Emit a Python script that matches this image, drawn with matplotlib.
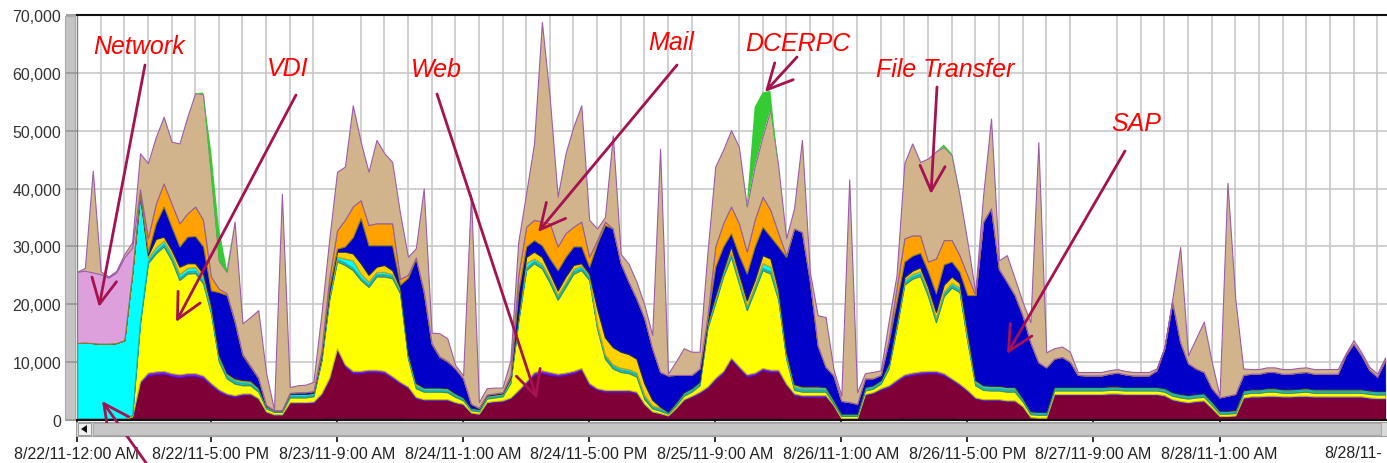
import matplotlib
matplotlib.use('Agg')
import matplotlib.pyplot as plt
from matplotlib.patches import Rectangle, Polygon
import matplotlib.dates as mdates
import pandas as pd

# hourly samples starting 8/22/11 00:00 (values in thousands)
times = pd.date_range('2011-08-22 00:00', periods=167, freq='h')

pink = [0, 0, 0, 0, 0, 0, 0, 0, .4, .4,
        .4, .4, .4, .4, .4, .4, .4, .4, .1, .1,
        .1, .1, .1, .1, .1, .1, .1, .1, .1, .1,
        .1, .1, .4, .4, .4, .4, .4, .4, .4, .4,
        .4, .4, .1, .1, .1, .1, .1, .1, .1, .1,
        0, 0, .1, .1, .1, .1, .1, .4, .4, .4,
        .4, .4, .4, .4, .4, .4, .1, .1, .1, .1,
        .1, .1, .1, .1, .1, 0, .1, .1, .1, .1,
        .1, .4, .4, .4, .4, .4, .4, .4, .4, .4,
        .1, .1, .1, .1, .1, .1, 0, 0, 0, 0,
        .1, .1, .1, .1, .1, .4, .4, .4, .4, .4,
        .4, .4, .1, .1, .1, .1, .1, .1, .1, .1,
        .1, 0, 0, 0, .1, .1, .1, .1, .1, .1,
        .1, .1, .1, .1, .1, .1, .1, .1, .1, .1,
        .1, .1, .1, .1, .1, 0, 0, 0, .1, .1,
        .1, .1, .1, .1, .1, .1, .1, .1, .1, .1,
        .1, .1, .1, .1, .1, .1, .1]

web = [.2, .2, .2, .2, .2, .2, .2, .6, 6.0, 7.3,
       7.5, 7.6, 7.2, 7.0, 7.2, 7.2, 6.8, 5.6, 4.8, 4.2,
       3.9, 4.2, 4.3, 3.5, 1.3, .8, .8, 2.8, 2.8, 2.8,
       2.9, 4.2, 6.5, 11.7, 8.8, 7.7, 7.7, 7.9, 7.9, 7.7,
       6.8, 5.9, 5.4, 3.6, 3.3, 3.3, 3.3, 3.3, 2.8, 2.5,
       1.2, 1.0, 2.8, 3.0, 3.1, 3.6, 4.8, 5.9, 7.4, 7.7,
       7.4, 7.2, 7.4, 7.7, 8.2, 5.6, 5.1, 4.8, 4.8, 4.8,
       4.8, 4.5, 2.5, 1.3, 1.0, .7, 1.9, 3.3, 3.9, 4.5,
       5.4, 6.5, 7.7, 10.0, 8.5, 7.1, 7.4, 8.2, 7.9, 7.9,
       5.9, 4.2, 3.9, 3.9, 3.9, 3.9, 2.5, .3, .3, .3,
       4.2, 4.5, 5.1, 5.6, 6.5, 7.1, 7.4, 7.6, 7.7, 7.7,
       7.3, 6.5, 5.9, 4.8, 3.6, 3.3, 3.3, 3.3, 3.1, 3.1,
       2.2, .5, .4, .4, 4.2, 4.2, 4.2, 4.2, 4.2, 4.2,
       4.2, 4.3, 4.3, 4.2, 4.2, 4.2, 4.2, 4.2, 4.0, 3.3,
       3.0, 2.8, 3.0, 3.1, 1.9, .7, .7, .8, 3.6, 3.8,
       3.8, 3.9, 3.9, 3.8, 3.8, 3.9, 3.9, 3.8, 3.8, 3.8,
       3.8, 3.8, 3.8, 3.8, 3.6, 3.5, 3.5]

purple = [0, 0, 0, 0, 0, 0, 0, 0, .3, .5,
          .5, .5, .5, .5, .5, .5, .5, .4, .4, .3,
          .3, .3, .2, .2, .1, .1, .1, .2, .2, .2,
          .2, .3, .4, .3, .4, .4, .4, .4, .4, .4,
          .4, .3, .3, .3, .2, .2, .2, .2, .2, .2,
          .1, .1, .2, .2, .2, .2, .3, .4, .5, .5,
          .5, .4, .4, .4, .4, .4, .3, .3, .3, .3,
          .3, .3, .2, .1, .1, .1, .1, .2, .2, .3,
          .3, .4, .4, .4, .4, .4, .4, .4, .4, .4,
          .3, .3, .3, .3, .3, .3, .1, 0, 0, 0,
          .2, .2, .3, .3, .4, .4, .4, .4, .4, .4,
          .4, .3, .3, .3, .2, .2, .2, .2, .2, .2,
          .1, 0, 0, 0, .2, .2, .2, .2, .2, .2,
          .2, .2, .2, .2, .2, .2, .2, .2, .2, .2,
          .2, .2, .2, .2, .1, 0, 0, 0, .2, .2,
          .2, .2, .2, .2, .2, .2, .2, .2, .2, .2,
          .2, .2, .2, .2, .2, .2, .2]

vdi = [.1, .1, .1, .1, .1, .1, .1, .3, 10.0, 18.9,
       20.4, 21.5, 19.5, 16.3, 17.2, 17.3, 15.9, 12.0, 4.8, 2.6,
       2.0, 1.4, 1.4, 1.1, .5, .4, .4, .8, .8, .8,
       .9, 5.5, 13.4, 15.0, 17.2, 17.4, 15.7, 14.3, 16.1, 16.3,
       16.9, 15.3, 4.8, 1.5, 1.3, 1.3, 1.3, 1.2, .9, .6,
       .4, .4, .6, .6, .7, 2.5, 11.8, 19.2, 18.8, 17.6,
       15.4, 12.8, 14.8, 16.8, 16.9, 17.8, 10.3, 5.4, 3.7, 3.1,
       2.9, 2.6, .8, .5, .4, .3, .4, .6, .7, 1.1,
       10.0, 12.9, 16.3, 17.4, 14.3, 11.1, 14.2, 16.9, 16.6, 12.0,
       4.3, .6, .6, .6, .6, .6, .3, .4, .4, .4,
       .6, .6, .8, 2.9, 8.8, 15.5, 16.2, 16.5, 12.9, 8.4,
       13.3, 15.7, 15.8, 8.3, 2.1, 1.6, 1.5, 1.5, 1.5, 1.5,
       .8, .5, .5, .5, .6, .6, .6, .6, .6, .6,
       .6, .6, .6, .6, .6, .6, .6, .6, .6, .6,
       .6, .6, .6, .6, .5, .4, .4, .4, .6, .6,
       .6, .7, .7, .6, .6, .6, .7, .6, .6, .6,
       .6, .6, .6, .6, .6, .6, .6]

teal = [0, 0, 0, 0, 0, 0, 0, 0, .4, .4,
        .4, .4, .4, .4, .4, .4, .4, .4, .4, .4,
        .4, .4, .3, .3, .2, .2, .2, .3, .3, .3,
        .3, .3, .4, .4, .4, .4, .4, .4, .4, .4,
        .4, .4, .4, .4, .3, .3, .3, .3, .3, .3,
        .2, .2, .2, .2, .2, .3, .4, .4, .4, .4,
        .4, .4, .4, .4, .4, .4, .4, .4, .4, .4,
        .4, .4, .4, .3, .3, .2, .3, .4, .4, .4,
        .4, .4, .4, .4, .4, .4, .4, .4, .4, .4,
        .4, .4, .4, .4, .4, .4, .4, .3, .3, .3,
        .4, .4, .4, .4, .4, .4, .4, .4, .4, .4,
        .4, .4, .4, .4, .4, .4, .4, .4, .4, .4,
        .4, .3, .3, .3, .4, .4, .4, .4, .4, .4,
        .4, .4, .4, .4, .4, .4, .4, .4, .4, .4,
        .4, .4, .4, .4, .4, .3, .3, .3, .4, .4,
        .4, .4, .4, .4, .4, .4, .4, .4, .4, .4,
        .4, .4, .4, .4, .4, .4, .4]

cyan = [13.0, 13.1, 13.0, 12.9, 12.9, 13.0, 13.5, 24.5, 21.8, .5,
        .6, .6, .6, .6, .6, .6, .6, .5, .4, .3,
        .3, .3, .3, .3, .2, .1, .1, .3, .3, .3,
        .3, .3, .4, .4, .7, 1.3, .7, .5, .4, .4,
        .3, .3, .3, .3, .3, .3, .3, .3, .2, .2,
        .2, .2, .2, .2, .2, .2, .4, .8, .4, .4,
        .4, .4, .4, .4, .4, .4, .3, .3, .3, .3,
        .3, .3, .3, .2, .2, .1, .2, .2, .2, .2,
        .3, .4, .4, .4, .4, .4, .4, .8, .8, .4,
        .3, .3, .3, .3, .3, .3, .2, .1, .1, .1,
        .2, .2, .2, .3, .4, .4, .4, .4, .4, .4,
        .4, .4, .4, .3, .3, .3, .3, .3, .3, .3,
        .2, .2, .2, .2, .2, .2, .2, .2, .2, .2,
        .2, .2, .2, .2, .2, .2, .2, .2, .2, .2,
        .2, .2, .2, .2, .2, .2, .2, .2, .2, .2,
        .2, .2, .2, .2, .2, .2, .2, .2, .2, .2,
        .2, .2, .2, .2, .2, .2, .2]

gold = [0, 0, 0, 0, 0, 0, 0, 0, 0, .5,
        1.5, .7, .8, 1.3, .8, .7, .7, .5, .3, .2,
        .2, .2, .2, .1, 0, 0, 0, 0, 0, 0,
        0, .2, .4, .9, 1.2, 1.2, 1.8, 1.2, .9, 1.2,
        .7, .3, .2, .2, .1, .1, .1, .1, .1, 0,
        0, 0, .1, .1, .1, .3, .4, 1.1, 1.2, 1.2,
        .9, .8, 1.0, .7, .4, .3, 2.8, 3.0, 3.0, 2.8,
        2.6, 2.4, 2.0, 1.0, .2, 0, 0, 0, 0, 0,
        .3, .5, .3, 1.0, .9, .9, 1.0, 1.4, 1.4, .9,
        .5, .3, .2, .2, .2, .1, 0, 0, 0, 0,
        0, 0, 0, .2, .4, .5, .6, .7, .8, 1.0,
        1.2, 1.1, .8, .9, .2, .1, .1, .1, .1, .1,
        0, 0, 0, 0, 0, 0, 0, 0, 0, 0,
        0, 0, 0, 0, 0, 0, 0, 0, 0, 0,
        0, 0, 0, 0, 0, 0, 0, 0, 0, 0,
        0, 0, 0, 0, 0, 0, 0, 0, 0, 0,
        0, 0, 0, 0, 0, 0, 0]

sap = [0, 0, 0, 0, 0, 0, 0, 0, 0, .5,
       2.7, 5.2, 4.0, 3.5, 4.6, 4.7, 4.7, 2.6, 10.9, 13.5,
       9.8, 4.3, 2.4, 1.6, .2, 0, 0, .2, .3, .3,
       .3, .5, 1.0, .5, .9, 2.8, 7.8, 5.1, 3.7, 3.4,
       4.3, .5, 13.1, 21.5, 16.5, 7.5, 5.3, 4.6, 4.3, 3.3,
       .7, .2, .2, .2, .2, .3, 3.9, 1.8, 2.0, 2.0,
       2.5, 3.5, 3.4, 3.2, 2.9, 1.2, 11.2, 19.4, 20.5, 15.3,
       12.5, 10.4, 11.3, 8.9, 6.0, 6.3, 4.8, 3.0, 2.3, 2.3,
       .8, 5.0, 4.1, 2.3, 3.2, 4.6, 5.8, 4.9, 3.8, 7.6,
       16.4, 26.9, 26.7, 18.3, 7.1, 3.5, 4.2, 2.2, 2.0, 1.7,
       1.5, 1.2, .9, 3.7, 3.4, 2.7, 2.6, 2.5, 2.7, 3.2,
       3.5, 2.6, 1.9, 6.5, 14.7, 28.3, 30.7, 20.2, 18.2, 15.9,
       14.3, 11.9, 8.6, 7.7, 4.9, 5.2, 4.4, 2.1, 2.0, 2.0,
       2.0, 2.2, 2.4, 2.2, 2.0, 2.0, 2.0, 2.9, 6.9, 15.6,
       9.0, 5.5, 4.4, 3.7, 2.3, 2.3, 2.6, 2.8, 2.7, 2.7,
       2.7, 2.8, 2.8, 2.7, 2.7, 2.8, 2.8, 2.7, 2.7, 2.7,
       2.7, 5.9, 7.9, 5.9, 3.6, 2.5, 5.3]

mail = [0, 0, 0, 0, 0, 0, 0, 0, 1.0, 2.4,
        3.4, 4.0, 4.0, 4.0, 4.0, 5.1, 4.6, 2.4, .6, .3,
        .2, .2, .2, .1, 0, 0, 0, 0, 0, 0,
        0, .5, 1.5, 3.2, 4.6, 5.3, 3.1, 3.5, 3.8, 3.8,
        3.8, 1.0, .5, .2, .2, .2, .1, .1, 0, 0,
        0, 0, 0, 0, 0, .3, 2.9, 3.4, 3.5, 4.1,
        6.1, 4.1, 4.1, 3.4, 4.3, 1.7, .6, .6, 0, 0,
        0, 0, 0, 0, 0, 0, 0, 0, 0, 0,
        .3, 3.5, 4.0, 4.6, 5.5, 3.8, 4.6, 5.2, 4.6, 2.3,
        .3, 0, 0, 0, 0, 0, 0, 0, 0, 0,
        0, 0, 0, .3, 2.3, 4.0, 3.5, 3.0, 1.7, 6.0,
        4.2, 3.7, 2.9, 3.4, 0, 0, 0, 0, 0, 0,
        0, 0, 0, 0, 0, 0, 0, 0, 0, 0,
        0, 0, 0, 0, 0, 0, 0, 0, 0, 0,
        0, 0, 0, 0, 0, 0, 0, 0, 0, 0,
        0, 0, 0, 0, 0, 0, 0, 0, 0, 0,
        0, 0, 0, 0, 0, 0, 0]

network = [12.3, 12.4, 12.2, 12.0, 11.4, 12.2, 14.3, 4.4] + [0] * 159

file_transfer = [0, .5, 17.6, .5, .2, .3, .6, .9, 6.2, 13.0,
                 11.5, 11.5, 10.7, 13.8, 16.7, 19.6, 21.7, 17.6, 4.8, 3.7,
                 17.1, 5.3, 8.4, 11.7, 5.5, .1, 37.4, 1.0, 1.2, 1.3,
                 1.6, 6.2, 6.7, 10.1, 9.2, 17.5, 10.1, 9.2, 14.4, 12.1,
                 10.6, 11.3, 3.1, 1.6, 17.7, 1.8, 4.0, 3.9, .6, .5,
                 36.2, 1.0, 1.1, 1.0, .8, 2.5, 5.8, 5.8, 13.2, 34.5,
                 21.6, 8.6, 13.8, 17.3, 20.1, 6.4, 2.0, .8, 16.1, 1.6,
                 3.1, 2.9, 2.3, 2.3, 38.6, .3, 2.3, 4.6, 4.0, 2.9,
                 10.9, 13.8, 12.7, 13.2, 13.2, 7.8, 9.2, 10.4, 17.3, 11.5,
                 2.9, 3.5, 15.9, 1.5, 5.2, 8.6, 1.1, .9, 38.5, 2.0,
                 .9, 1.1, .8, 3.2, 2.3, 13.0, 15.9, 12.7, 17.8, 18.5,
                 16.1, 14.7, 10.4, 5.8, .5, 4.6, 15.5, 1.5, 4.6, 2.9,
                 2.3, 3.5, 38.0, 2.6, 1.8, 1.8, 1.7, .5, .6, .6,
                 .6, .6, .6, .6, .6, .6, .6, .3, .2, .5,
                 16.4, 1.4, 5.2, 8.7, 4.6, .3, 36.8, 16.4, 1.1, .8,
                 .8, .8, .8, .8, .8, .8, .8, .8, .8, .8,
                 .8, .3, .6, .5, .5, .5, .5]

dcerpc = [0, 0, 0, 0, 0, 0, 0, 0, 0, 0,
          0, 0, 0, 0, 0, 0, .3, 4.4, 5.8, .6,
          0, 0, 0, 0, 0, 0, 0, 0, 0, 0,
          0, 0, 0, 0, 0, 0, 0, 0, 0, 0,
          0, 0, 0, 0, 0, 0, 0, 0, 0, 0,
          0, 0, 0, 0, 0, 0, 0, 0, 0, 0,
          0, 0, 0, 0, 0, 0, 0, 0, 0, 0,
          0, 0, 0, 0, 0, 0, 0, 0, 0, 0,
          0, 0, 0, 0, 0, .3, 10.3, 7.6, 3.3, 0,
          0, 0, 0, 0, 0, 0, 0, 0, 0, 0,
          0, 0, 0, 0, 0, 0, 0, 0, 0, 0,
          .4, .3, .2, 0, 0, 0, 0, 0, 0, 0,
          0, 0, 0, 0, 0, 0, 0, 0, 0, 0,
          0, 0, 0, 0, 0, 0, 0, 0, 0, 0,
          0, 0, 0, 0, 0, 0, 0, 0, 0, 0,
          0, 0, 0, 0, 0, 0, 0, 0, 0, 0,
          0, 0, 0, 0, 0, 0, 0]

series = [pink, web, purple, vdi, teal, cyan, gold, sap, mail, network, file_transfer, dcerpc]
faces = ['#ff2a9a', '#7f0037', '#7f1fff', '#ffff00', '#3cb39e', '#00ffff',
         '#ffd200', '#0000c8', '#ffa200', '#dda0dd', '#d2b48c', '#33cc33']
edges = ['#d0106a', '#5c0028', '#5a10c0', '#c8c000', '#2a9080', '#10b8b8',
         '#c8a000', '#102a70', '#8a7a30', 'none', '#9c5ca8', 'none']

tick_times = pd.to_datetime(['2011-08-22 00:00', '2011-08-22 17:00', '2011-08-23 09:00',
                             '2011-08-24 01:00', '2011-08-24 17:00', '2011-08-25 09:00',
                             '2011-08-26 01:00', '2011-08-26 17:00', '2011-08-27 09:00',
                             '2011-08-28 01:00'])
tick_labels = ['8/22/11-12:00 AM', '8/22/11-5:00 PM', '8/23/11-9:00 AM', '8/24/11-1:00 AM',
               '8/24/11-5:00 PM', '8/25/11-9:00 AM', '8/26/11-1:00 AM', '8/26/11-5:00 PM',
               '8/27/11-9:00 AM', '8/28/11-1:00 AM']

W, H = 1387, 464


def fx(px):
    return px / W


def fy(py):
    return 1 - py / H


fig = plt.figure(figsize=(W / 100, H / 100), dpi=100)
ax = fig.add_axes([fx(77), fy(421), (W - 77) / W, 405 / H])
ax.set_axisbelow(True)

polys = ax.stackplot(times, *[[v * 1000 for v in s] for s in series],
                     colors=faces, linewidth=0.8, zorder=2)
for p, ec in zip(polys, edges):
    p.set_edgecolor(ec)

ax.set_xlim(times[0], times[0] + pd.Timedelta(hours=166.25))
ax.set_ylim(0, 70000)

ax.set_yticks(range(0, 70001, 10000))
ax.set_yticklabels([f'{v:,}' for v in range(0, 70001, 10000)])
ax.set_xticks(tick_times)
ax.set_xticklabels(tick_labels)
ax.xaxis.set_minor_locator(mdates.HourLocator(byhour=range(0, 24, 3)))

ax.grid(which='minor', axis='x', color='#c8c8c8', linewidth=1.2)
ax.grid(which='major', axis='y', color='#c8c8c8', linewidth=1.2)
ax.tick_params(axis='x', which='minor', length=0)
ax.tick_params(axis='x', which='major', direction='out', length=16, width=1.3,
               color='#222222', pad=2.5, labelsize=11.5, labelcolor='#222222')
ax.tick_params(axis='y', direction='out', length=8, width=1.3, color='#9a9a9a',
               pad=3.5, labelsize=11.5, labelcolor='#333333')
for lab in ax.get_xticklabels() + ax.get_yticklabels():
    lab.set_family('Liberation Sans')

ax.spines['right'].set_visible(False)
ax.spines['top'].set_color('#111111')
ax.spines['top'].set_linewidth(1.5)
ax.spines['bottom'].set_color('#111111')
ax.spines['bottom'].set_linewidth(1.5)
ax.spines['left'].set_color('#808080')
ax.spines['left'].set_linewidth(1.0)

# grey side bar left of the plot
ax.add_patch(Rectangle((fx(65), fy(421)), 10 / W, 404 / H, transform=fig.transFigure,
                       facecolor='#c4c4c4', edgecolor='#a8a8a8', lw=0.8,
                       clip_on=False, zorder=0.3))
# scrollbar under the plot
ax.add_patch(Rectangle((fx(76), fy(437)), (W - 76) / W, 14 / H, transform=fig.transFigure,
                       facecolor='#dadada', edgecolor='#a0a0a0', lw=0.8,
                       clip_on=False, zorder=3))
ax.add_patch(Rectangle((fx(78), fy(436)), 13 / W, 12 / H, transform=fig.transFigure,
                       facecolor='#f2f2f2', edgecolor='#a0a0a0', lw=0.8,
                       clip_on=False, zorder=3.1))
ax.add_patch(Polygon([(fx(81), fy(430)), (fx(87), fy(426)), (fx(87), fy(434))],
                     closed=True, transform=fig.transFigure, facecolor='#111111',
                     edgecolor='none', clip_on=False, zorder=3.2))
ax.add_patch(Rectangle((fx(93), fy(436)), 1288 / W, 12 / H, transform=fig.transFigure,
                       facecolor='#c6c6c6', edgecolor='#aaaaaa', lw=0.8,
                       clip_on=False, zorder=3.1))

# the next date label is only partly shown at the right edge
fig.text(fx(1382), fy(454), '8/28/11-', ha='right', va='center',
         fontsize=11.5, color='#222222', family='Liberation Sans')

# red call-outs with arrows
callouts = [('Network', 139, 47, 145, 66, 99, 308),
            ('VDI', 288, 69, 296, 96, 176, 323),
            ('Web', 436, 70, 437, 95, 537, 400),
            ('Mail', 671, 43, 677, 66, 538, 233),
            ('DCERPC', 798, 44, 797, 58, 765, 93),
            ('File Transfer', 945, 70, 937, 88, 931, 195),
            ('SAP', 1136, 124, 1125, 152, 1007, 355)]
arrow_color = '#a5124f'
for label, tx, ty, x0, y0, x1, y1 in callouts:
    fig.text(fx(tx), fy(ty), label, color='#ff0000', fontsize=18, style='italic',
             family='Liberation Sans', ha='center', va='center')
    ax.annotate('', xy=(x1, H - y1), xycoords='figure pixels',
                xytext=(x0, H - y0), textcoords='figure pixels',
                annotation_clip=False,
                arrowprops=dict(arrowstyle='->, head_length=0.9, head_width=0.45',
                                color=arrow_color, lw=2, mutation_scale=20,
                                shrinkA=0, shrinkB=0))
ax.annotate('', xy=(102, H - 402), xycoords='figure pixels',
            xytext=(149, -4), textcoords='figure pixels', annotation_clip=False,
            arrowprops=dict(arrowstyle='->, head_length=0.9, head_width=0.45',
                            color=arrow_color, lw=2, mutation_scale=20,
                            shrinkA=0, shrinkB=0))

fig.savefig('out.png', dpi=100)
